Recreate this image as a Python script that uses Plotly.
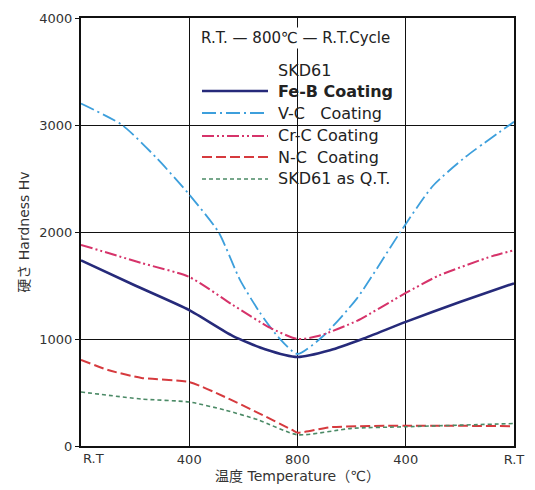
import plotly.graph_objects as go

# ---- data (x = position along the R.T -> 800 -> R.T cycle) ----
tick_pos = [0, 1, 2, 3, 4]
tick_text = ["", "400", "800", "400", "R.T"]
first_tick_text = "R.T"

feb_x = [0, 0.5, 1, 1.4, 1.7, 2, 2.3, 2.6, 3, 3.5, 4]
feb_y = [1735, 1500, 1270, 1030, 905, 832, 895, 1000, 1160, 1345, 1520]

vc_x = [0, 0.38, 0.7, 1, 1.27, 1.47, 1.65, 1.82, 2, 2.24, 2.55, 2.95, 3.25, 3.55, 4]
vc_y = [3200, 3000, 2690, 2350, 2000, 1550, 1250, 1020, 860, 1030, 1380, 2000, 2430, 2700, 3030]

crc_x = [0, 0.56, 1, 1.4, 1.75, 2, 2.2, 2.55, 3, 3.3, 3.8, 4]
crc_y = [1880, 1710, 1580, 1320, 1103, 1000, 1030, 1170, 1430, 1590, 1775, 1830]

nc_x = [0, 0.25, 0.56, 1, 1.33, 1.64, 1.95, 2, 2.3, 3, 4]
nc_y = [805, 710, 636, 598, 458, 308, 150, 125, 175, 190, 185]

qt_x = [0, 0.56, 1, 1.33, 1.64, 2, 2.5, 3, 4]
qt_y = [505, 439, 411, 336, 243, 105, 165, 180, 210]

names = ["Fe-B Coating", "V-C\u00a0\u00a0\u00a0Coating", "Cr-C Coating", "N-C\u00a0\u00a0Coating", "SKD61 as Q.T."]

# ---- styles ----
FONT = "DejaVu Sans, 'Noto Sans CJK JP', sans-serif"
styles = [
    dict(color="#262a7a", width=2.6, dash="solid"),
    dict(color="#3d9fdc", width=1.8, dash="14px,4px,2px,4px"),
    dict(color="#d6336a", width=2.0, dash="12px,3px,2px,3px,2px,3px"),
    dict(color="#d63a3e", width=2.0, dash="10px,4px"),
    dict(color="#4b8a66", width=1.6, dash="4px,3px"),
]
series = [(feb_x, feb_y), (vc_x, vc_y), (crc_x, crc_y), (nc_x, nc_y), (qt_x, qt_y)]

fig = go.Figure()
for (xs, ys), nm, st in zip(series, names, styles):
    fig.add_trace(go.Scatter(x=xs, y=ys, name=nm, mode="lines",
                             line=dict(shape="spline", smoothing=0.6, **st),
                             showlegend=False))

# page has an 8px body margin; figure sized so the plot area lands at page px 81..514 x 18..446
OFF = 8
W, H = 535 - OFF, 490 - OFF
L, R, T, B = 81 - OFF, 514 - OFF, 18 - OFF, 446 - OFF
def px(xp):
    return (xp - OFF - L) / (R - L)
def py(yp):
    return (B - (yp - OFF)) / (B - T)

shapes = [
    dict(type="rect", xref="paper", yref="paper", x0=px(193), x1=px(397),
         y0=py(188), y1=py(60), fillcolor="white", line=dict(width=0), layer="below"),
]
annotations = [
    dict(text="R.T. \u2014 800\u2103 \u2014 R.T.Cycle", x=px(295), y=py(38), xref="paper", yref="paper",
         showarrow=False, font=dict(size=15, color="#222", family=FONT), bgcolor="white",
         xanchor="center", yanchor="middle"),
    dict(text="SKD61", x=px(276), y=py(70), xref="paper", yref="paper", showarrow=False,
         font=dict(size=16, color="#222", family=FONT), xanchor="left", yanchor="middle"),
    dict(text=first_tick_text, x=tick_pos[0], y=0, xref="x", yref="paper", showarrow=False,
         font=dict(size=13, color="#333", family=FONT), xanchor="left", yanchor="top", yshift=-3),
]
rows = [91, 113, 136, 157, 179]
for nm, st, ry in zip(names, styles, rows):
    shapes.append(dict(type="line", xref="paper", yref="paper", x0=px(202), x1=px(268),
                       y0=py(ry), y1=py(ry), line=dict(color=st["color"], width=st["width"], dash=st["dash"])))
    txt = "<b>" + nm + "</b>" if nm.startswith("Fe-B") else nm
    annotations.append(dict(text=txt, x=px(276), y=py(ry), xref="paper", yref="paper", showarrow=False,
                            font=dict(size=16, color="#222", family=FONT), xanchor="left", yanchor="middle"))

fig.update_layout(
    width=W, height=H,
    margin=dict(l=L, r=W - R, t=T, b=H - B),
    paper_bgcolor="white", plot_bgcolor="white",
    font=dict(family=FONT, size=13, color="#333"),
    shapes=shapes, annotations=annotations,
    showlegend=False,
)
fig.update_xaxes(range=[0, 4], tickvals=tick_pos, ticktext=tick_text, automargin=False,
                 showgrid=True, gridcolor="#111", gridwidth=1,
                 showline=True, linecolor="#111", linewidth=2, mirror=True,
                 ticks="", zeroline=False,
                 tickfont=dict(size=13, color="#333", family=FONT),
                 title=dict(text="温度 Temperature（℃）", font=dict(size=14, color="#333", family=FONT), standoff=6))
fig.update_yaxes(range=[0, 4000], tickvals=[0, 1000, 2000, 3000, 4000], automargin=False,
                 showgrid=True, gridcolor="#111", gridwidth=1,
                 showline=True, linecolor="#111", linewidth=2, mirror=True,
                 ticks="outside", ticklen=4, tickcolor="#111", zeroline=False,
                 tickfont=dict(size=13, color="#333", family=FONT),
                 title=dict(text="硬さ Hardness Hv", font=dict(size=14, color="#333", family=FONT), standoff=6))

fig.write_html("out.html")
